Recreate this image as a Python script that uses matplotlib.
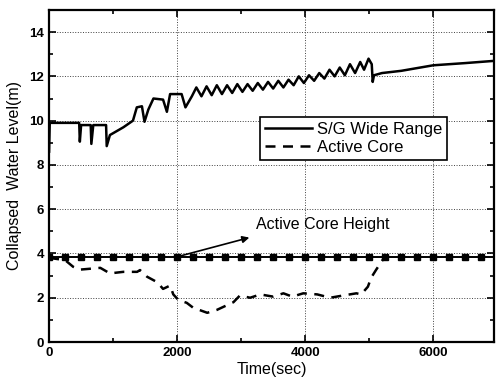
import numpy as np
import matplotlib
matplotlib.use("Agg")
import matplotlib.pyplot as plt
from matplotlib.ticker import MultipleLocator

plt.rcParams["font.family"] = ["Liberation Sans", "DejaVu Sans"]

# ---------------------------------------------------------------------------
# Data
# ---------------------------------------------------------------------------

# S/G wide range collapsed level (m)
sg_time = [0, 10, 470, 480, 500, 650, 660, 690, 890, 900, 950, 1160, 1310,
           1370, 1450, 1490, 1550, 1630, 1780, 1840, 1890, 2070, 2130, 2230,
           2300, 2380, 2460, 2540, 2620, 2700, 2780, 2860, 2940, 3020, 3100,
           3180, 3260, 3340, 3420, 3500, 3580, 3660, 3740, 3820, 3900, 3980,
           4060, 4140, 4220, 4300, 4380, 4460, 4540, 4620, 4700, 4780, 4860,
           4920, 4990, 5040, 5055, 5075, 5200, 5500, 6000, 6500, 6950]
sg_level = [8.6, 9.9, 9.9, 9.05, 9.8, 9.8, 8.95, 9.8, 9.8, 8.85, 9.35, 9.7,
            10.0, 10.6, 10.65, 9.95, 10.5, 11.0, 10.95, 10.4, 11.2, 11.2,
            10.6, 11.1, 11.5, 11.1, 11.55, 11.15, 11.6, 11.2, 11.6, 11.25,
            11.65, 11.3, 11.65, 11.35, 11.7, 11.4, 11.75, 11.45, 11.8, 11.5,
            11.85, 11.6, 12.0, 11.7, 12.05, 11.8, 12.15, 11.9, 12.3, 12.0,
            12.4, 12.05, 12.55, 12.15, 12.65, 12.3, 12.8, 12.55, 11.75, 12.05,
            12.15, 12.25, 12.5, 12.6, 12.7]

# Active core collapsed level (m)
core_time = [0, 250, 375, 480, 800, 950, 1160, 1375, 1420, 1530, 1690, 1780,
             1890, 1940, 2020, 2150, 2250, 2470, 2620, 2880, 2980, 3140, 3300,
             3500, 3660, 3800, 3970, 4190, 4390, 4590, 4800, 4875, 4980, 5030,
             5110, 5220, 5300]
core_level = [3.8, 3.7, 3.4, 3.27, 3.35, 3.1, 3.17, 3.17, 3.25, 2.95, 2.7,
              2.4, 2.55, 2.15, 1.9, 1.77, 1.55, 1.32, 1.45, 1.8, 2.1, 2.0,
              2.15, 2.05, 2.2, 2.05, 2.2, 2.15, 2.0, 2.1, 2.2, 2.15, 2.5, 2.9,
              3.27, 3.75, 3.83]

# Active core height (constant) with markers
height_time = np.arange(0, 7001, 250)
height_level = np.full(height_time.shape, 3.83)

# ---------------------------------------------------------------------------
# Figure
# ---------------------------------------------------------------------------

fig = plt.figure(figsize=(4.96, 3.83), dpi=100)
ax = fig.add_axes([0.099, 0.107, 0.897, 0.867])

ax.plot(height_time, height_level, color="black", linewidth=1.4,
        marker="s", markersize=5, zorder=3)
l1, = ax.plot(sg_time, sg_level, color="black", linewidth=1.8,
              label="S/G Wide Range")
l2, = ax.plot(core_time, core_level, color="black", linewidth=1.8,
              linestyle=(0, (4, 3)), label="Active Core")

ax.set_xlim(0, 6950)
ax.set_ylim(0, 15)
ax.xaxis.set_major_locator(MultipleLocator(2000))
ax.xaxis.set_minor_locator(MultipleLocator(1000))
ax.yaxis.set_major_locator(MultipleLocator(2))
ax.yaxis.set_minor_locator(MultipleLocator(1))
ax.tick_params(which="both", direction="in", top=True, right=True,
               width=1.2, labelsize=9.5)
ax.tick_params(which="major", length=5)
ax.tick_params(which="minor", length=3)
for lab in ax.get_xticklabels() + ax.get_yticklabels():
    lab.set_fontweight("bold")
for sp in ax.spines.values():
    sp.set_linewidth(1.6)

ax.grid(True, which="major", linestyle=":", color="0.25", linewidth=0.7)

ax.set_xlabel("Time(sec)", fontsize=11.5, labelpad=2)
ax.set_ylabel("Collapsed  Water Level(m)", fontsize=11.5, labelpad=5)

leg = ax.legend(handles=[l1, l2], loc="upper left",
                bbox_to_anchor=(0.474, 0.678), fontsize=12,
                frameon=True, fancybox=False, framealpha=1,
                edgecolor="black", handlelength=2.8, borderpad=0.3,
                labelspacing=0.2, handletextpad=0.3, borderaxespad=0)
leg.get_frame().set_linewidth(1.2)

ax.annotate("", xy=(3170, 4.75), xytext=(2000, 3.85),
            arrowprops=dict(arrowstyle="-|>", color="black", lw=1.2,
                            mutation_scale=10))
ax.text(3230, 5.3, "Active Core Height", fontsize=11.5, va="center",
        ha="left")

fig.savefig("out.png", dpi=100)
